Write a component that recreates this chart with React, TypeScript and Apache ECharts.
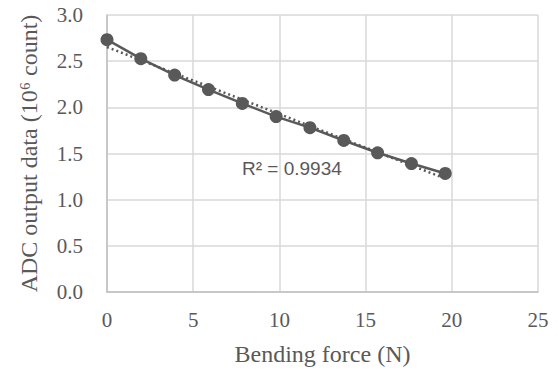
import React, { useEffect, useRef } from "react";
import * as echarts from "echarts";

const forceN = [0, 1.962, 3.924, 5.886, 7.848, 9.81, 11.772, 13.734, 15.696, 17.658, 19.62];
const adcCount = [2.733, 2.527, 2.349, 2.192, 2.042, 1.9, 1.78, 1.641, 1.508, 1.391, 1.284];
const xTicks = [0, 5, 10, 15, 20, 25];
const yTicks = [0, 0.5, 1.0, 1.5, 2.0, 2.5, 3.0];
const r2Label = "R² = 0.9934";

function linearFit(xs: number[], ys: number[]) {
  const n = xs.length;
  const mx = xs.reduce((a, b) => a + b, 0) / n;
  const my = ys.reduce((a, b) => a + b, 0) / n;
  let sxy = 0, sxx = 0;
  for (let i = 0; i < n; i++) {
    sxy += (xs[i] - mx) * (ys[i] - my);
    sxx += (xs[i] - mx) * (xs[i] - mx);
  }
  const slope = sxy / sxx;
  return { slope, intercept: my - slope * mx };
}

export default function App() {
  const ref = useRef<HTMLDivElement>(null);
  useEffect(() => {
    if (!ref.current) return;
    const chart = echarts.init(ref.current, undefined, { renderer: "svg" });
    const fit = linearFit(forceN, adcCount);
    const x0 = forceN[0];
    const x1 = forceN[forceN.length - 1];
    const trend = [
      [x0, fit.intercept + fit.slope * x0],
      [x1, fit.intercept + fit.slope * x1],
    ];
    const gray = "#595959";
    const gridColor = "#d9d9d9";
    chart.setOption({
      animation: false,
      grid: { left: 107, right: 20, top: 15, bottom: 75, containLabel: false },
      xAxis: {
        type: "value",
        min: xTicks[0],
        max: xTicks[xTicks.length - 1],
        interval: 5,
        name: "Bending force (N)",
        nameLocation: "middle",
        nameGap: 50,
        nameTextStyle: { fontFamily: "Liberation Serif", fontSize: 24, color: gray },
        axisLine: { show: true, lineStyle: { color: "#bfbfbf", width: 1.5 } },
        axisTick: { show: false },
        axisLabel: { fontFamily: "Liberation Serif", fontSize: 21, color: gray, margin: 17 },
        splitLine: { show: true, lineStyle: { color: gridColor, width: 1.5 } },
      },
      yAxis: {
        type: "value",
        min: yTicks[0],
        max: yTicks[yTicks.length - 1],
        interval: 0.5,
        name: "ADC output data (10⁶ count)",
        nameLocation: "middle",
        nameGap: 66,
        nameTextStyle: { fontFamily: "Liberation Serif", fontSize: 24, color: gray },
        axisLine: { show: true, lineStyle: { color: "#bfbfbf", width: 1.5 } },
        axisTick: { show: false },
        axisLabel: {
          fontFamily: "Liberation Serif",
          fontSize: 21,
          color: gray,
          margin: 24,
          formatter: (v: number) => v.toFixed(1),
        },
        splitLine: { show: true, lineStyle: { color: gridColor, width: 1.5 } },
      },
      series: [
        {
          type: "line",
          data: forceN.map((x, i) => [x, adcCount[i]]),
          symbol: "circle",
          symbolSize: 13,
          itemStyle: { color: gray },
          lineStyle: { color: gray, width: 2.5 },
          z: 2,
        },
        {
          type: "line",
          data: trend,
          symbol: "none",
          lineStyle: { color: gray, width: 2.5, type: [2, 3] },
          z: 3,
        },
      ],
      graphic: [
        {
          type: "text",
          left: 242,
          top: 159,
          style: { text: r2Label, fontFamily: "Liberation Sans", fontSize: 19, fill: gray },
        },
      ],
    });
    return () => chart.dispose();
  }, []);
  return (
    <div
      ref={ref}
      style={{ position: "absolute", left: 0, top: 0, width: 558, height: 371 }}
    />
  );
}
